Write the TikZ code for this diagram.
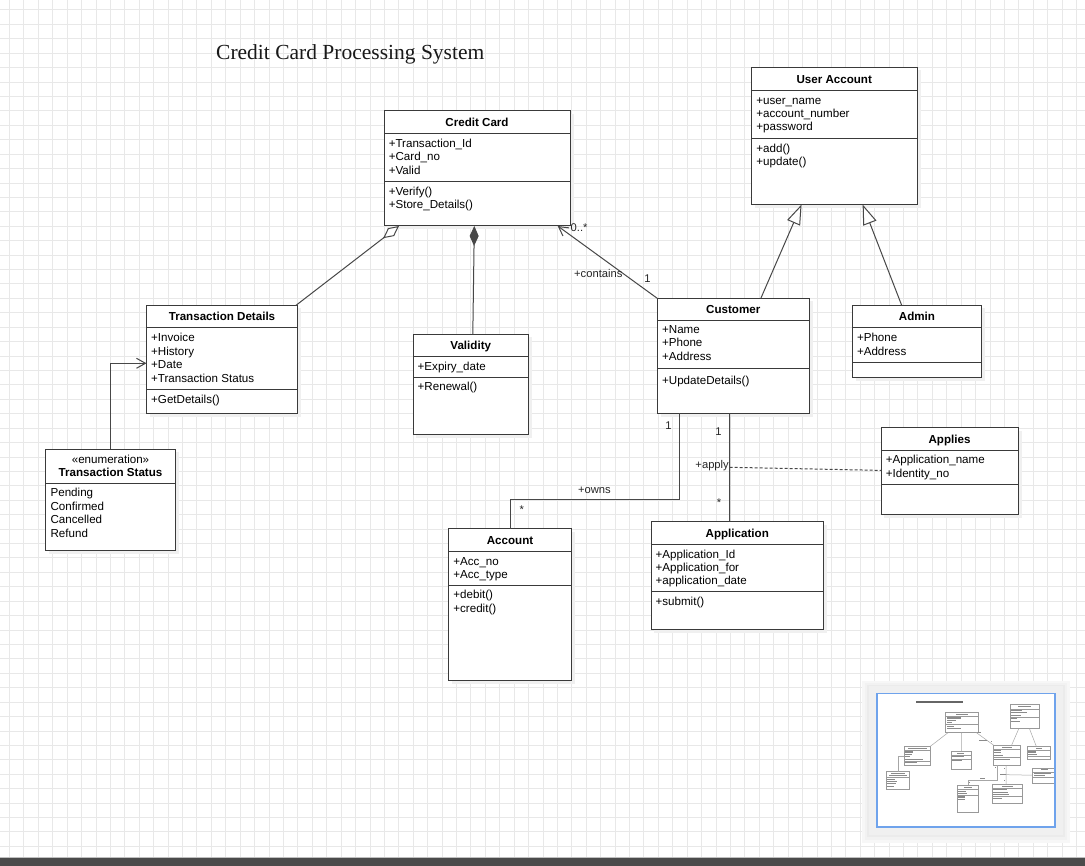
\documentclass[tikz,border=0pt]{standalone}
\usepackage{fontspec}
\setmainfont{Liberation Sans}
\newfontfamily\serifttl{Liberation Serif}
\usetikzlibrary{arrows.meta,calc}
\definecolor{gridc}{HTML}{E8E8E8}
\definecolor{edgec}{HTML}{3A3A3A}
\definecolor{shadowc}{HTML}{F0F0F0}
\definecolor{thumbblue}{HTML}{6FA3EC}
\definecolor{barc}{HTML}{4B4B4B}
\definecolor{thumbtxt}{HTML}{8A8A8A}

\newif\ifthumb
\def\pfx{}

\tikzset{
 thumbextra/.style={},
 classbox/.style={draw=edgec, line width=1pt, fill=white, inner sep=0pt, outer sep=0pt},
 boxshadow/.style={fill=shadowc},
 sepline/.style={draw=edgec, line width=1pt},
 ttl/.style={anchor=center, inner sep=0pt, font=\bfseries\fontsize{11.6}{13.4}\selectfont, text height=8.3pt, text depth=0pt},
 attr/.style={anchor=west, inner sep=0pt, font=\fontsize{11.6}{13.4}\selectfont, text height=8.3pt, text depth=0pt},
 ctr/.style={attr, anchor=center},
 lbl/.style={anchor=center, inner sep=0pt, font=\fontsize{11.2}{13}\selectfont, text height=8pt, text depth=0pt, text=black!85},
 titlefont/.style={anchor=base west, inner sep=0pt, font=\serifttl\fontsize{21.5}{24}\selectfont, text height=15pt, text depth=0pt, text=black!90, thumbextra/.style={text height=13pt, fill=black!60}},
 conn/.style={draw=black!72, line width=1pt},
 aggr/.style={conn, {Diamond[fill=white,length=20pt,width=10pt]}-},
 compo/.style={conn, {Diamond[length=20pt,width=9pt]}-},
 navarrow/.style={conn, -{Straight Barb[length=9pt,width=10pt]}},
 genarrow/.style={conn, -{Triangle[fill=white,length=20pt,width=14pt]}},
 assoc/.style={conn},
 assocdash/.style={conn, dash pattern=on 3pt off 2pt},
 thumbmode/.style={
   classbox/.append style={line width=0.5pt, draw=black!40},
   sepline/.append style={line width=0.4pt, draw=black!40},
   conn/.style={draw=black!35, line width=0.5pt},
   aggr/.style={conn}, compo/.style={conn}, navarrow/.style={conn},
   genarrow/.style={conn}, assoc/.style={conn}, assocdash/.style={conn},
   boxshadow/.style={fill=black!12}},
}

% text line: style, name, x, y, text
\newcommand\umltext[5]{%
 \ifthumb
  \node[#1, fill=thumbtxt, text height=6pt, text depth=0pt, thumbextra] (\pfx#2) at ({#3},{#4}) {\phantom{#5}};
 \else
  \node[#1] (\pfx#2) at ({#3},{#4}) {#5};
 \fi}

% name, x1, y1, x2, y2, sep1, sep2, title
\newcommand\umlclass[8]{%
 \pgfmathsetmacro\cx{(#2+#4)/2}\pgfmathsetmacro\cy{(#3+#5)/2}%
 \pgfmathsetmacro\cw{#4-#2}\pgfmathsetmacro\ch{#5-#3}%
 \fill[boxshadow] ({#2+3},{#3+3}) rectangle ({#4+3.5},{#5+3.5});
 \node[classbox, minimum width=\cw pt, minimum height=\ch pt] (\pfx#1) at (\cx,\cy) {};
 \draw[sepline] (#2,#6) -- (#4,#6);
 \if\relax\detokenize{#7}\relax\else\draw[sepline] (#2,#7) -- (#4,#7);\fi
 \if\relax\detokenize{#8}\relax\else\umltext{ttl}{#1-t}{\cx}{(#3+#6)/2}{#8}\fi
}

% prefix, x, y of first line, list of lines
\newcommand\umllines[4]{%
 \foreach \t [count=\i] in {#4} {\umltext{attr}{#1-\i}{#2}{#3+13.4*(\i-1)}{\t}}}

\newcommand\umldiagram{%
 \umltext{titlefont}{title}{216}{60}{Credit Card Processing System}
 % Credit Card
 \umlclass{cc}{384}{111}{570}{226}{133.5}{181.5}{Credit Card}
 \umllines{cc-a}{388.6}{143.3}{+Transaction\_Id,+Card\_no,+Valid}
 \umllines{cc-m}{388.6}{191}{+Verify(),+Store\_Details()}
 % User Account
 \umlclass{ua}{751.5}{67.5}{917}{204.5}{90.5}{138.5}{User Account}
 \umllines{ua-a}{756.2}{100}{+user\_name,+account\_number,+password}
 \umllines{ua-m}{756.2}{148}{+add(),+update()}
 % Transaction Details
 \umlclass{td}{146.5}{305.5}{297.5}{413.5}{328}{389.5}{Transaction Details}
 \umllines{td-a}{151}{337.7}{+Invoice,+History,+Date,+Transaction Status}
 \umllines{td-m}{151}{399}{+GetDetails()}
 % Enumeration
 \umlclass{enum}{45.5}{449.5}{175.5}{550}{483.5}{}{}
 \umltext{ctr}{enum-s}{110.5}{459}{«enumeration»}
 \umltext{ttl}{enum-t}{110.5}{472.7}{Transaction Status}
 \umllines{enum-a}{50.4}{492.7}{Pending,Confirmed,Cancelled,Refund}
 % Validity
 \umlclass{val}{413}{334.5}{528.5}{435}{356.5}{377.5}{Validity}
 \umllines{val-a}{417.5}{366}{+Expiry\_date}
 \umllines{val-m}{417.5}{386.7}{+Renewal()}
 % Customer
 \umlclass{cust}{657.5}{298.5}{809}{413.5}{320.5}{368.5}{Customer}
 \umllines{cust-a}{661.9}{329.3}{+Name,+Phone,+Address}
 \umllines{cust-m}{661.9}{380}{+UpdateDetails()}
 % Admin
 \umlclass{admin}{852.5}{305.5}{981.5}{377.5}{328}{362.5}{Admin}
 \umllines{admin-a}{856.8}{337.7}{+Phone,+Address}
 % Applies
 \umlclass{applies}{881}{428}{1018}{514.5}{450.5}{484.5}{Applies}
 \umllines{applies-a}{885.6}{459.7}{+Application\_name,+Identity\_no}
 % Account
 \umlclass{acct}{448.5}{528.5}{571.5}{680}{551.5}{585.5}{Account}
 \umllines{acct-a}{453.2}{561}{+Acc\_no,+Acc\_type}
 \umllines{acct-m}{453.2}{594.8}{+debit(),+credit()}
 % Application
 \umlclass{app}{651}{521.5}{823.5}{629.5}{544.5}{591.5}{Application}
 \umllines{app-a}{655.4}{554}{+Application\_Id,+Application\_for,+application\_date}
 \umllines{app-m}{655.4}{601.3}{+submit()}
 % connectors
 \draw[aggr] ($(\pfx cc.south west)!0.0806!(\pfx cc.south east)$) -- ($(\pfx td.north west)!0.9887!(\pfx td.north east)$);
 \draw[compo] ($(\pfx cc.south west)!0.4855!(\pfx cc.south east)$) -- ($(\pfx val.north west)!0.5178!(\pfx val.north east)$);
 \draw[navarrow] (\pfx cust.north west) -- ($(\pfx cc.south west)!0.934!(\pfx cc.south east)$);
 \draw[navarrow] (\pfx enum.north) |- ($(\pfx td.north west)!0.535!(\pfx td.south west)$);
 \draw[genarrow] ($(\pfx cust.north west)!0.6816!(\pfx cust.north east)$) -- ($(\pfx ua.south west)!0.3025!(\pfx ua.south east)$);
 \draw[genarrow] ($(\pfx admin.north west)!0.3818!(\pfx admin.north east)$) -- ($(\pfx ua.south west)!0.6715!(\pfx ua.south east)$);
 \draw[assoc] ($(\pfx cust.south west)!0.1444!(\pfx cust.south east)$) -- ++(0,86) -| (\pfx acct.north);
 \draw[assoc] ($(\pfx cust.south west)!0.4766!(\pfx cust.south east)$) -- ($(\pfx app.north west)!0.456!(\pfx app.north east)$);
 \coordinate (\pfx aj) at (729.7,467.3);
 \draw[assocdash] (\pfx aj) -- ($(\pfx applies.north west)!0.49!(\pfx applies.south west)$);
 % labels
 \umltext{lbl, anchor=west}{l-mult}{570.5}{228}{0..*}
 \umltext{lbl, anchor=west}{l-contains}{574}{273.3}{+contains}
 \umltext{lbl}{l-one1}{647.5}{279}{1}
 \umltext{lbl}{l-owns}{594.4}{490}{+owns}
 \umltext{lbl}{l-one2}{668.5}{425.7}{1}
 \umltext{lbl}{l-star1}{521.9}{510}{*}
 \umltext{lbl, anchor=east}{l-apply}{729}{465}{+apply}
 \umltext{lbl}{l-one3}{718.6}{432}{1}
 \umltext{lbl}{l-star2}{719}{503}{*}
}

\begin{document}
\begin{tikzpicture}[x=1pt,y=-1pt]
\useasboundingbox (0,0) rectangle (1085,866);
\fill[white] (0,0) rectangle (1085,866);
% grid
\foreach \i in {0,...,74} \draw[gridc, line width=1pt] ({9.5+14.42*\i},0) -- ({9.5+14.42*\i},857);
\foreach \j in {0,...,58} \draw[gridc, line width=1pt] (0,{10+14.42*\j}) -- (1085,{10+14.42*\j});
% main diagram
\umldiagram
% overview thumbnail
\fill[black!3] (862,681) rectangle (1070,843);
\fill[black!5] (865,683) rectangle (1067,840);
\fill[black!8] (867,685) rectangle (1065,837);
\fill[black!6] (869,686) rectangle (1063,835);
\fill[white] (876.7,693.3) rectangle (1055,827);
\begin{scope}
 \clip (876.7,693.3) rectangle (1055,827);
 \begin{scope}[shift={(878.5,692.9)}, scale=0.175, transform shape, thumbmode]
  \thumbtrue\def\pfx{th}
  \umldiagram
 \end{scope}
\end{scope}
\draw[thumbblue, line width=1.6pt] (876.7,693.3) rectangle (1055,827);
% bottom bar
\fill[barc] (0,857.5) rectangle (1085,866);
\draw[black!25, line width=0.8pt] (0,857) -- (1085,857);
\end{tikzpicture}
\end{document}
